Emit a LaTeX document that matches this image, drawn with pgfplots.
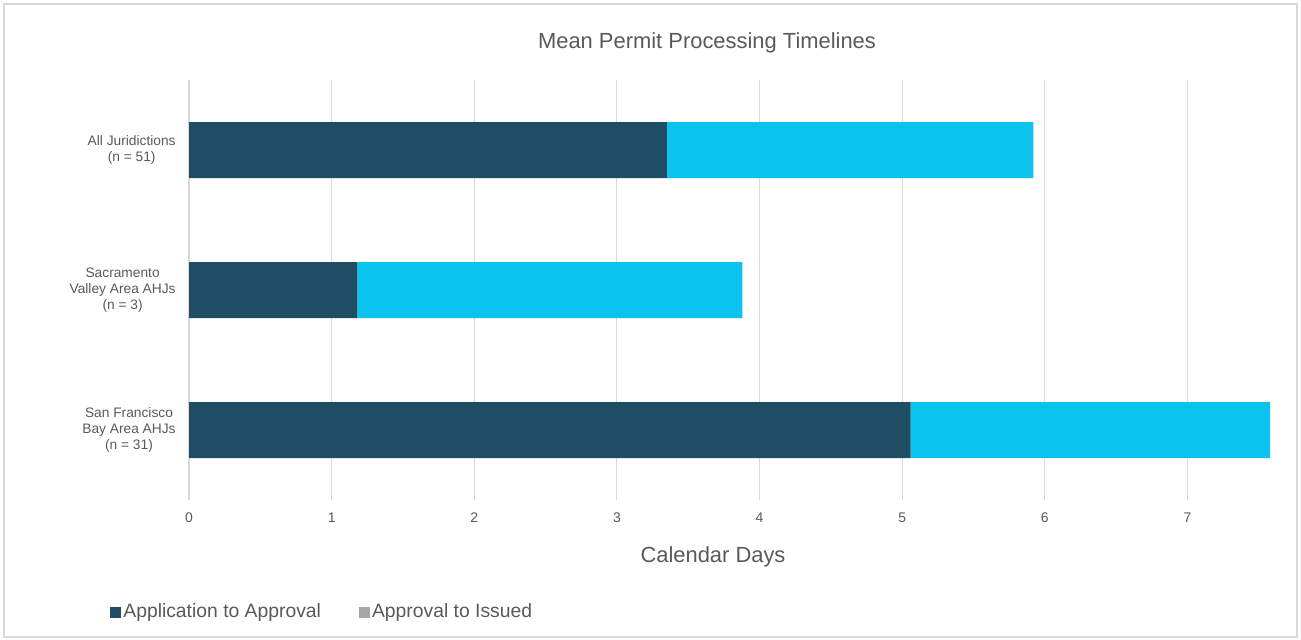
\documentclass[border=0pt]{standalone}
\usepackage{fontspec}
\setmainfont{Liberation Sans}
\usepackage{pgfplots}
\pgfplotsset{compat=1.18}

\definecolor{darkteal}{HTML}{1F4E64}
\definecolor{brightcyan}{HTML}{0AC4EF}
\definecolor{legendgray}{HTML}{A6A6A6}
\definecolor{textgray}{HTML}{595959}
\definecolor{gridgray}{HTML}{D9D9D9}

\begin{document}
\begin{tikzpicture}
% page frame
\useasboundingbox (0bp,0bp) rectangle (650.5bp,-320bp);
\draw[gridgray, line width=0.8bp] (2bp,-2bp) rectangle (648.5bp,-318.5bp);
\node[text=textgray, font=\fontsize{11}{13}\selectfont] at (353.5bp,-21.5bp) {Mean Permit Processing Timelines};
\node[text=textgray, font=\fontsize{11}{13}\selectfont] at (356.5bp,-278.5bp) {Calendar Days};

\begin{axis}[
  at={(94.5bp,-250bp)}, anchor=south west,
  width=542bp, height=210bp, scale only axis,
  xbar stacked, bar width=28bp,
  xmin=0, xmax=7.6, ymin=-0.5, ymax=2.5,
  xtick={0,1,2,3,4,5,6,7},
  ytick={0,1,2},
  yticklabels={{San Francisco\\Bay Area AHJs\\(n = 31)},
               {Sacramento\\Valley Area AHJs\\(n = 3)},
               {All Juridictions\\(n = 51)}},
  xmajorgrids, major grid style={draw=gridgray, line width=0.6bp},
  axis line style={draw=none},
  major tick length=0pt,
  /pgf/number format/assume math mode=true,
  xticklabel style={font=\fontsize{7}{8}\selectfont, text=textgray, inner sep=0pt, yshift=-6bp},
  yticklabel style={font=\fontsize{6.9}{8}\selectfont, text=textgray, align=center, inner sep=0pt, xshift=-6.5bp},
  legend columns=2,
  legend image code/.code={\fill[#1, draw=none] (0bp,-2.75bp) rectangle (5.5bp,2.75bp);},
  legend style={at={(-0.0729,-0.2667)}, anchor=west, draw=none, fill=none,
    font=\fontsize{9.7}{11}\selectfont, text=textgray, inner sep=0pt,
    nodes={inner sep=1bp},
    /tikz/every even column/.append style={column sep=18bp}},
]
\addplot[fill=darkteal, draw=none, forget plot] coordinates {(5.06,0) (1.18,1) (3.35,2)};
\addplot[fill=brightcyan, draw=none, forget plot] coordinates {(2.52,0) (2.70,1) (2.57,2)};
\addlegendimage{fill=darkteal}
\addlegendentry{Application to Approval}
\addlegendimage{fill=legendgray}
\addlegendentry{Approval to Issued}
\end{axis}
\end{tikzpicture}
\end{document}
